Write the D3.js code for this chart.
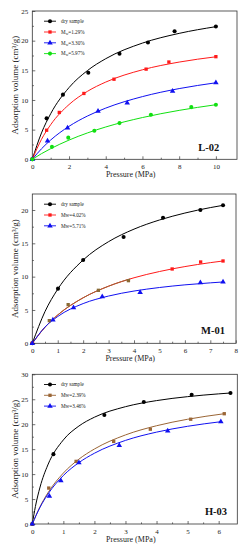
<!DOCTYPE html>
<html><head><meta charset="utf-8">
<script src="https://cdn.jsdelivr.net/npm/d3@7"></script>
<style>body{margin:0;background:#fff}text{font-family:"Liberation Serif","Times New Roman",serif}</style>
</head><body><svg id="c" width="243" height="550"></svg>
<script>
// ---------- DATA ----------
const panelTitles = ["L-02", "M-01", "H-03"];
const xTitle = "Pressure (MPa)";
const yTitle = "Adsorption volume (cm³/g)";

// L-02
const l02Names = ["dry sample", "M_w=1.29%", "M_w=3.30%", "M_w=5.97%"];
const l02XTicks = [0, 2, 4, 6, 8, 10];
const l02YTicks = [0, 5, 10, 15, 20, 25];
const l02Dry = [[0,0],[0.78,6.9],[1.67,10.9],[3.05,14.6],[4.75,17.8],[6.3,19.7],[7.75,21.6],[10,22.4]];
const l02M1 = [[0,0],[0.78,4.9],[1.47,7.9],[2.81,11.1],[4.45,13.5],[6.2,15.2],[7.44,16.4],[10,17.3]];
const l02M2 = [[0,0],[0.83,3.1],[1.92,5.3],[3.58,8.1],[5.17,9.5],[7.64,11.5],[10,12.9]];
const l02M3 = [[0,0],[1.07,2.1],[1.96,3.65],[3.38,4.8],[4.75,6.1],[6.46,7.5],[8.66,8.8],[10,9.2]];
const l02DryFit = [[0,0],[0.5,4.44],[1,7.68],[2,12.09],[3,14.95],[4,16.96],[6,19.59],[8,21.23],[10,22.36]];
const l02M1Fit = [[0,0],[0.5,3.36],[1,5.83],[2,9.23],[3,11.45],[4,13.02],[6,15.09],[8,16.39],[10,17.28]];
const l02M2Fit = [[0,0],[0.5,1.77],[1,3.25],[2,5.56],[3,7.29],[4,8.63],[6,10.57],[8,11.92],[10,12.9]];
const l02M3Fit = [[0,0],[0.5,0.95],[1,1.79],[2,3.24],[3,4.44],[4,5.45],[6,7.04],[8,8.25],[10,9.2]];

// M-01
const m01Names = ["dry sample", "Mw=4.02%", "Mw=5.71%"];
const m01XTicks = [0, 1, 2, 3, 4, 5, 6, 7, 8];
const m01YTicks = [0, 5, 10, 15, 20];
const m01Dry = [[0,0],[1.01,8.2],[2.0,12.5],[3.59,15.95],[5.14,18.85],[6.61,20.0],[7.5,20.7]];
const m01M1 = [[0,0],[0.67,3.4],[1.41,5.8],[2.6,7.95],[3.78,9.4],[5.5,11.15],[6.62,12.2],[7.5,12.35]];
const m01M2 = [[0,0],[0.81,3.5],[1.62,5.35],[2.75,7.0],[4.24,7.65],[6.61,9.1],[7.5,9.2]];
const m01DryFit = [[0,0],[0.5,4.77],[1,8.12],[2,12.5],[3,15.25],[4,17.13],[5,18.5],[6,19.54],[7,20.36],[7.5,20.7]];
const m01M1Fit = [[0,0],[0.5,2.42],[1,4.25],[2,6.83],[3,8.57],[4,9.83],[5,10.77],[6,11.51],[7,12.1],[7.5,12.35]];
const m01M2Fit = [[0,0],[0.5,2.44],[1,4.02],[2,5.96],[3,7.09],[4,7.84],[5,8.37],[6,8.77],[7,9.07],[7.5,9.2]];
const m01BrownUntil = 3.85; // part of the Mw=4.02% curve drawn brown in the picture

// H-03
const h03Names = ["dry sample", "Mw=2.39%", "Mw=3.46%"];
const h03XTicks = [0, 1, 2, 3, 4, 5, 6];
const h03YTicks = [0, 5, 10, 15, 20, 25, 30];
const h03Dry = [[0,0],[0.68,14.0],[2.32,21.85],[3.59,24.45],[5.13,25.9],[6.38,26.25]];
const h03M1 = [[0,0],[0.53,7.2],[1.41,12.55],[2.62,16.55],[3.8,19.0],[5.1,21.0],[6.18,22.1]];
const h03M2 = [[0,0],[0.55,5.6],[0.92,8.7],[1.5,12.3],[2.8,15.75],[4.36,18.65],[6.07,20.5]];
const h03DryFit = [[0,0],[0.1,3.5],[0.25,7.41],[0.5,11.83],[1,16.85],[1.5,19.63],[2,21.4],[3,23.51],[4,24.73],[5,25.52],[6,26.08],[6.38,26.25]];
const h03M1Fit = [[0,0],[0.25,3.49],[0.5,6.22],[1,10.21],[1.5,12.99],[2,15.03],[3,17.85],[4,19.69],[5,20.99],[6.18,22.1]];
const h03M2Fit = [[0,0],[0.25,3.36],[0.5,5.96],[1,9.72],[1.5,12.3],[2,14.18],[3,16.75],[4,18.41],[5,19.58],[6.07,20.5]];

// ---------- STYLE / LAYOUT ----------
const C = {black:"#000000", red:"#ff1a1a", blue:"#1010f0", green:"#10e010", brown:"#9a6535", olive:"#8a6a35"};
const panels = [
  {title:panelTitles[0], box:{l:32.3,r:237,t:11,b:159.3}, xd:[0,11.15], yd:[0,25], xt:l02XTicks, yt:l02YTicks,
   series:[
    {name:l02Names[0], pts:l02Dry, fit:l02DryFit, color:C.black, sym:d3.symbolCircle, size:13},
    {name:l02Names[1], pts:l02M1, fit:l02M1Fit, color:C.red, sym:d3.symbolSquare, size:11},
    {name:l02Names[2], pts:l02M2, fit:l02M2Fit, color:C.blue, sym:d3.symbolTriangle, size:13},
    {name:l02Names[3], pts:l02M3, fit:l02M3Fit, color:C.green, sym:d3.symbolCircle, size:13}],
   titlePos:[208.8,150.5]},
  {title:panelTitles[1], box:{l:32.3,r:236,t:194,b:343.3}, xd:[0,8.01], yd:[0,22.4], xt:m01XTicks, yt:m01YTicks,
   series:[
    {name:m01Names[0], pts:m01Dry, fit:m01DryFit, color:C.black, sym:d3.symbolCircle, size:13},
    {name:m01Names[1], pts:m01M1, fit:m01M1Fit, color:C.red, sym:d3.symbolSquare, size:11, brownUntil:m01BrownUntil},
    {name:m01Names[2], pts:m01M2, fit:m01M2Fit, color:C.blue, sym:d3.symbolTriangle, size:13}],
   titlePos:[213,333.5]},
  {title:panelTitles[2], box:{l:32.3,r:237.3,t:374.3,b:524}, xd:[0,6.6], yd:[0,30], xt:h03XTicks, yt:h03YTicks,
   series:[
    {name:h03Names[0], pts:h03Dry, fit:h03DryFit, color:C.black, sym:d3.symbolCircle, size:13},
    {name:h03Names[1], pts:h03M1, fit:h03M1Fit, color:C.brown, sym:d3.symbolSquare, size:11},
    {name:h03Names[2], pts:h03M2, fit:h03M2Fit, color:C.blue, sym:d3.symbolTriangle, size:13}],
   titlePos:[216,514.5]}
];

const svg = d3.select("#c");
function mids(t){ const m=[]; for(let i=0;i<t.length-1;i++) m.push((t[i]+t[i+1])/2); return m; }

panels.forEach((p, pi) => {
  const b = p.box;
  const x = d3.scaleLinear().domain(p.xd).range([b.l, b.r]);
  const y = d3.scaleLinear().domain(p.yd).range([b.b, b.t]);
  const g = svg.append("g");
  const clipId = "clip"+pi;
  svg.append("clipPath").attr("id", clipId).append("rect")
    .attr("x", b.l).attr("y", b.t).attr("width", b.r-b.l).attr("height", b.b-b.t);

  // axes (inward ticks)
  g.append("g").attr("transform",`translate(0,${b.b})`)
    .call(d3.axisBottom(x).tickValues(p.xt).tickSizeInner(-3).tickSizeOuter(0).tickPadding(5).tickFormat(d3.format("d")));
  g.append("g").attr("transform",`translate(0,${b.b})`)
    .call(d3.axisBottom(x).tickValues(mids(p.xt)).tickSizeInner(-1.6).tickSizeOuter(0).tickFormat(""));
  g.append("g").attr("transform",`translate(${b.l},0)`)
    .call(d3.axisLeft(y).tickValues(p.yt).tickSizeInner(-3).tickSizeOuter(0).tickPadding(4).tickFormat(d3.format("d")));
  g.append("g").attr("transform",`translate(${b.l},0)`)
    .call(d3.axisLeft(y).tickValues(mids(p.yt)).tickSizeInner(-1.6).tickSizeOuter(0).tickFormat(""));
  g.selectAll(".domain").remove();
  g.selectAll(".tick line").attr("stroke","#333").attr("stroke-width",0.7);
  g.selectAll(".tick text").attr("font-size",7).attr("fill","#222")
    .style("font-family",'"Liberation Serif","Times New Roman",serif');

  // frame
  g.append("rect").attr("x",b.l).attr("y",b.t).attr("width",b.r-b.l).attr("height",b.b-b.t)
    .attr("fill","none").attr("stroke","#333").attr("stroke-width",0.8);

  // titles
  g.append("text").attr("x",(b.l+b.r)/2 - 4).attr("y",b.b+18).attr("text-anchor","middle")
    .attr("font-size",8).attr("fill","#222").text(xTitle);
  g.append("text").attr("transform",`translate(17.5,${(b.t+b.b)/2}) rotate(-90)`).attr("text-anchor","middle")
    .attr("font-size",9).attr("fill","#222").text(yTitle);
  g.append("text").attr("x",p.titlePos[0]).attr("y",p.titlePos[1]).attr("text-anchor","middle")
    .attr("font-size",10.5).attr("font-weight","bold").attr("fill","#111").text(p.title);

  const line = d3.line().x(d=>x(d[0])).y(d=>y(d[1])).curve(d3.curveMonotoneX);
  const plot = g.append("g").attr("clip-path",`url(#${clipId})`);

  p.series.forEach(s => {
    plot.append("path").attr("d", line(s.fit)).attr("fill","none").attr("stroke", s.color).attr("stroke-width",1);
    if (s.brownUntil !== undefined) {
      const cid = "bclip"+pi;
      svg.append("clipPath").attr("id",cid).append("rect")
        .attr("x",b.l).attr("y",b.t).attr("width",x(s.brownUntil)-b.l).attr("height",b.b-b.t);
      plot.append("g").attr("clip-path",`url(#${cid})`).append("path").attr("d", line(s.fit))
        .attr("fill","none").attr("stroke", C.brown).attr("stroke-width",1);
    }
  });
  p.series.forEach(s => {
    const sym = d3.symbol().type(s.sym).size(s.size);
    g.selectAll(null).data(s.pts).enter().append("path")
      .attr("transform", d=>`translate(${x(d[0])},${y(d[1])})`)
      .attr("d", sym())
      .attr("fill", d => (s.brownUntil !== undefined && d[0] <= s.brownUntil && d[0] > 0) ? C.olive : s.color);
  });

  // legend
  const lg = g.append("g");
  p.series.forEach((s, i) => {
    const ly = b.t + 10.2 + i*10.8;
    lg.append("line").attr("x1",44).attr("x2",56).attr("y1",ly).attr("y2",ly).attr("stroke",s.color).attr("stroke-width",0.9);
    lg.append("path").attr("transform",`translate(50,${ly})`).attr("d", d3.symbol().type(s.sym).size(s.size)()).attr("fill",s.color);
    const t = lg.append("text").attr("x",61).attr("y",ly+1.7).attr("font-size",5.2).attr("fill","#222");
    const parts = s.name.split("_");
    if (parts.length > 1) {
      t.append("tspan").text(parts[0]);
      t.append("tspan").attr("font-size",3.6).attr("dy",1).text(parts[1].charAt(0));
      t.append("tspan").attr("dy",-1).text(parts[1].slice(1));
    } else t.text(s.name);
  });
});
</script></body></html>
